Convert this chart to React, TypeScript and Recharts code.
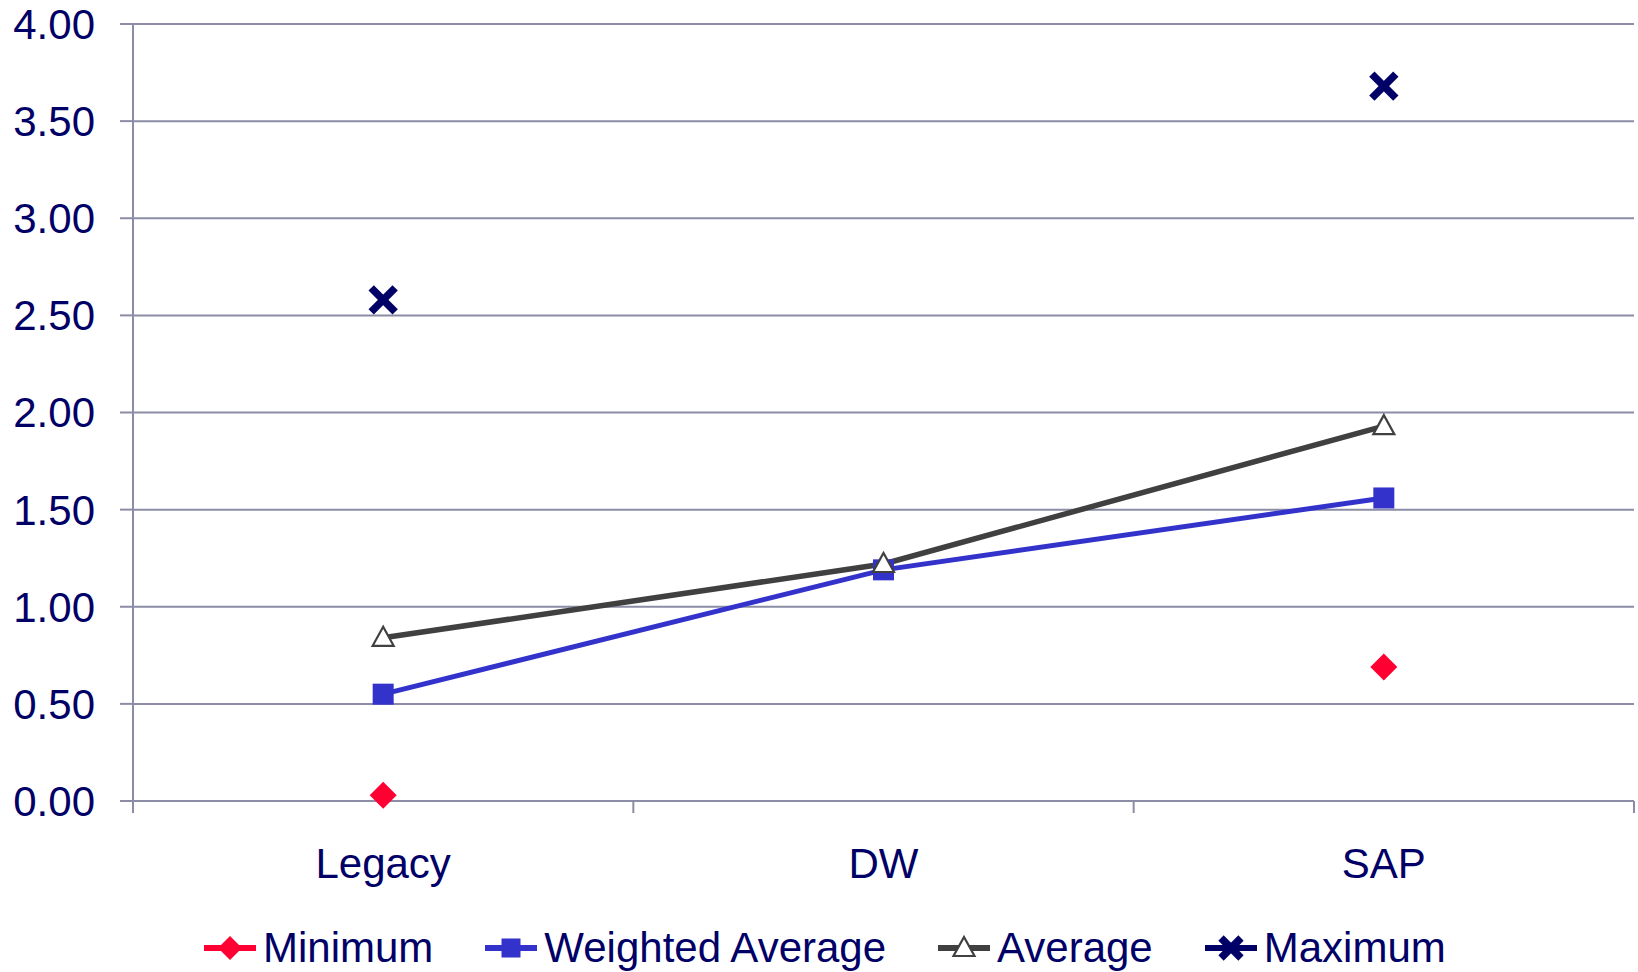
import React from 'react';
import { LineChart, Line, XAxis, YAxis, CartesianGrid } from 'recharts';

const categories = ['Legacy', 'DW', 'SAP'];
const minimum = [0.03, null, 0.69];
const weightedAverage = [0.55, 1.19, 1.56];
const average = [0.84, 1.22, 1.93];
const maximum = [2.58, null, 3.68];
const yTicks = [0, 0.5, 1, 1.5, 2, 2.5, 3, 3.5, 4];

const NAVY = '#000066';
const GRID = '#8c8ca6';
const FONT = '"Liberation Sans", Arial, sans-serif';

const data = categories.map((name, i) => ({
  x: i + 0.5,
  name,
  min: minimum[i],
  wavg: weightedAverage[i],
  avg: average[i],
  max: maximum[i],
}));

// x ticks: boundaries get a tick line, centers get the category label
const xTicks = [0, 0.5, 1, 1.5, 2, 2.5, 3];

const Diamond = ({ cx, cy, r = 13.5 }: any) => (
  <polygon points={`${cx},${cy - r} ${cx + r},${cy} ${cx},${cy + r} ${cx - r},${cy}`} fill="#ff0033" />
);
const Square = ({ cx, cy, s = 21 }: any) => (
  <rect x={cx - s / 2} y={cy - s / 2} width={s} height={s} fill="#3333cc" />
);
const Triangle = ({ cx, cy }: any) => (
  <path d={`M${cx},${cy - 11} L${cx + 10.5},${cy + 8} L${cx - 10.5},${cy + 8} Z`} fill="#fff" stroke="#404040" strokeWidth={2.2} />
);
const Cross = ({ cx, cy, r = 12 }: any) => (
  <g stroke={NAVY} strokeWidth={7.5}>
    <line x1={cx - r} y1={cy - r} x2={cx + r} y2={cy + r} />
    <line x1={cx - r} y1={cy + r} x2={cx + r} y2={cy - r} />
  </g>
);

const makeDot = (Shape: any) => (props: any) => {
  const { cx, cy, index } = props;
  if (cx == null || cy == null || props.value == null) return <g key={`d-${index}`} />;
  return <g key={`d-${index}`}><Shape cx={cx} cy={cy} /></g>;
};

const XTick = ({ x, y, payload }: any) => {
  const v = payload.value;
  if (Number.isInteger(v)) {
    return <line x1={x} x2={x} y1={y} y2={y + 12} stroke={GRID} strokeWidth={2} />;
  }
  return (
    <text x={x} y={y + 77} textAnchor="middle" fill={NAVY} fontSize={42} fontFamily={FONT}>
      {categories[Math.floor(v)]}
    </text>
  );
};

const legendItems = [
  { label: 'Minimum', color: '#ff0033', Shape: Diamond, props: { r: 12 } },
  { label: 'Weighted Average', color: '#3333cc', Shape: Square, props: { s: 19 } },
  { label: 'Average', color: '#404040', Shape: Triangle, props: {} },
  { label: 'Maximum', color: NAVY, Shape: Cross, props: { r: 10 } },
];

export default function App() {
  return (
    <div style={{ position: 'absolute', left: 0, top: 0, width: 1638, height: 972, background: '#fff', fontFamily: FONT }}>
      <LineChart width={1638} height={972} data={data} margin={{ top: 24, right: 4, bottom: 81, left: 0 }}>
        <CartesianGrid vertical={false} stroke={GRID} strokeWidth={2} />
        <XAxis
          type="number"
          dataKey="x"
          domain={[0, 3]}
          ticks={xTicks}
          interval={0}
          height={90}
          tickSize={0}
          tickMargin={0}
          tickLine={false}
          axisLine={{ stroke: GRID, strokeWidth: 2 }}
          tick={<XTick />}
        />
        <YAxis
          domain={[0, 4]}
          ticks={yTicks}
          interval={0}
          width={133}
          tickSize={13}
          tickMargin={25}
          tickFormatter={(v: number) => v.toFixed(2)}
          axisLine={{ stroke: GRID, strokeWidth: 2 }}
          tickLine={{ stroke: GRID, strokeWidth: 2 }}
          tick={{ fill: NAVY, fontSize: 42, fontFamily: FONT }}
        />
        <Line dataKey="min" stroke="none" dot={makeDot(Diamond)} activeDot={false} isAnimationActive={false} />
        <Line dataKey="wavg" stroke="#3333cc" strokeWidth={5} dot={makeDot(Square)} activeDot={false} isAnimationActive={false} />
        <Line dataKey="avg" stroke="#404040" strokeWidth={5.5} dot={makeDot(Triangle)} activeDot={false} isAnimationActive={false} />
        <Line dataKey="max" stroke="none" dot={makeDot(Cross)} activeDot={false} isAnimationActive={false} />
      </LineChart>
      <div style={{ position: 'absolute', left: 204, top: 923, height: 50, display: 'flex', alignItems: 'center', gap: 52 }}>
        {legendItems.map(({ label, color, Shape, props }) => (
          <div key={label} style={{ display: 'flex', alignItems: 'center', height: 50 }}>
            <svg width={52} height={30} style={{ marginRight: 7, overflow: 'visible' }}>
              <line x1={0} x2={52} y1={15} y2={15} stroke={color} strokeWidth={6} />
              <Shape cx={26} cy={15} {...props} />
            </svg>
            <span style={{ fontSize: 42, lineHeight: '50px', color: NAVY, whiteSpace: 'nowrap' }}>{label}</span>
          </div>
        ))}
      </div>
    </div>
  );
}
